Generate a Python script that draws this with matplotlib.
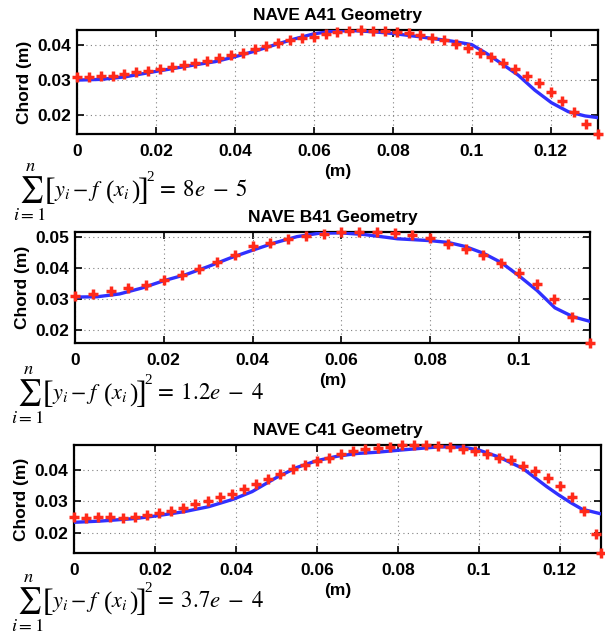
import numpy as np
import matplotlib
matplotlib.use("Agg")
import matplotlib.pyplot as plt

plt.rcParams['font.family'] = ['Liberation Sans', 'DejaVu Sans']
plt.rcParams['mathtext.fontset'] = 'stix'

# ---------------- data ----------------
titles = ["NAVE A41 Geometry", "NAVE B41 Geometry", "NAVE C41 Geometry"]
residual_mant = ["8", "1.2", "3.7"]
residual_exp = ["5", "4", "4"]

a_meas_x = list(np.round(np.arange(45) * 0.003, 4))
a_meas_y = [0.0308, 0.0308, 0.0311, 0.0313, 0.0318, 0.0322, 0.0327, 0.0332, 0.0337, 0.0342,
            0.0350, 0.0356, 0.0363, 0.0372, 0.0379, 0.0388, 0.0398, 0.0408, 0.0415, 0.0420,
            0.0425, 0.0432, 0.0437, 0.0441, 0.0444, 0.0442, 0.0441, 0.0438, 0.0435, 0.0429,
            0.0421, 0.0414, 0.0403, 0.0392, 0.0379, 0.0365, 0.0350, 0.0333, 0.0312, 0.0291,
            0.0267, 0.0239, 0.0208, 0.0174, 0.0145]
a_fit_x = [0, 0.006, 0.012, 0.02, 0.03, 0.035, 0.04, 0.045, 0.05, 0.055, 0.06, 0.065, 0.07,
           0.075, 0.08, 0.0865, 0.095, 0.1, 0.1037, 0.1075, 0.1118, 0.116, 0.1202, 0.1245,
           0.1287, 0.132]
a_fit_y = [0.0300, 0.0302, 0.0309, 0.0325, 0.0344, 0.0353, 0.0367, 0.0383, 0.0401, 0.0418,
           0.0433, 0.0441, 0.0442, 0.0439, 0.0434, 0.0425, 0.0412, 0.0402, 0.0377, 0.0348,
           0.0314, 0.0271, 0.0235, 0.0209, 0.0197, 0.0192]

b_meas_x = list(np.round(np.arange(30) * 0.004, 4))
b_meas_y = [0.0308, 0.0316, 0.0327, 0.0334, 0.0346, 0.0362, 0.0379, 0.0397, 0.0420, 0.0444,
            0.0471, 0.0482, 0.0495, 0.0505, 0.0512, 0.0517, 0.0517, 0.0516, 0.0513, 0.0506,
            0.0497, 0.0479, 0.0462, 0.0442, 0.0415, 0.0384, 0.0347, 0.0300, 0.0241, 0.0157]
b_fit_x = [0, 0.005, 0.01, 0.015, 0.02, 0.025, 0.03, 0.035, 0.04, 0.045, 0.05, 0.055, 0.06,
           0.065, 0.07, 0.0726, 0.08, 0.0841, 0.0879, 0.092, 0.096, 0.1, 0.1041, 0.1081,
           0.1122, 0.1163]
b_fit_y = [0.0306, 0.0307, 0.0316, 0.0335, 0.0359, 0.0379, 0.0405, 0.0433, 0.0458, 0.0482,
           0.0502, 0.0513, 0.0514, 0.0509, 0.0500, 0.0495, 0.0489, 0.0483, 0.0470, 0.0448,
           0.0418, 0.0375, 0.0327, 0.0271, 0.0242, 0.0226]

c_meas_x = list(np.round(np.arange(44) * 0.003, 4)) + [0.1302]
c_meas_y = [0.0251, 0.0248, 0.0249, 0.0249, 0.0246, 0.0250, 0.0256, 0.0262, 0.0269, 0.0280,
            0.0292, 0.0301, 0.0313, 0.0324, 0.0339, 0.0357, 0.0370, 0.0386, 0.0402, 0.0415,
            0.0429, 0.0440, 0.0451, 0.0460, 0.0467, 0.0471, 0.0475, 0.0479, 0.0480, 0.0479,
            0.0478, 0.0475, 0.0468, 0.0460, 0.0450, 0.0439, 0.0432, 0.0414, 0.0396, 0.0374,
            0.0348, 0.0314, 0.0270, 0.0197, 0.0135]
c_fit_x = [0, 0.0065, 0.015, 0.02, 0.0272, 0.0333, 0.0394, 0.044, 0.05, 0.055, 0.06, 0.065,
           0.07, 0.075, 0.08, 0.0845, 0.0901, 0.0961, 0.1, 0.1049, 0.1109, 0.1168, 0.1198,
           0.1227, 0.1255, 0.1302]
c_fit_y = [0.0233, 0.0237, 0.0245, 0.0253, 0.0267, 0.0283, 0.0307, 0.0331, 0.0376, 0.0408,
           0.0430, 0.0444, 0.0453, 0.0457, 0.0463, 0.0468, 0.0474, 0.0473, 0.0464, 0.0442,
           0.0405, 0.0347, 0.0320, 0.0296, 0.0275, 0.0260]

x_ticks = [0, 0.02, 0.04, 0.06, 0.08, 0.1, 0.12]
x_tick_labels = ["0", "0.02", "0.04", "0.06", "0.08", "0.1", "0.12"]
y_ticks_ac = [0.02, 0.03, 0.04]
y_ticks_b = [0.02, 0.03, 0.04, 0.05]

panels = [
    (a_meas_x, a_meas_y, a_fit_x, a_fit_y, y_ticks_ac),
    (b_meas_x, b_meas_y, b_fit_x, b_fit_y, y_ticks_b),
    (c_meas_x, c_meas_y, c_fit_x, c_fit_y, y_ticks_ac),
]

# ---------------- layout (pixels) ----------------
W, H = 605, 633
fig = plt.figure(figsize=(W / 100, H / 100), dpi=100)
boxes = [(77, 598, 30, 134), (75, 590, 232, 343), (74, 601, 445, 553)]
formula_x0 = [13, 11, 11]
formula_base = [196, 399, 607]

red = '#ff2a1a'
blue = '#3030ff'
SERIF = ['Liberation Serif', 'DejaVu Serif']


def draw_formula(x0, base, mant, expo):
    renderer = fig.canvas.get_renderer()
    # text, size, dy (px, down), family, absolute offset or None, gap after (px)
    specs = [
        (r'$\sum_{i=1}^{n}$', 19, 0, None, 0, 0),
        ('[', 23, 4, SERIF, 32, 0),
        (r'$y_i - f$', 16, 0, None, 41, 3),
        ('(', 18, 3, SERIF, None, -1),
        (r'$x_i$', 16, 0, None, None, 1),
        (')', 18, 3, SERIF, None, -1),
        (']', 23, 4, SERIF, None, -2),
        ('2', 11, -15, SERIF, None, 2),
        (r'$=\;' + mant + r'e\;-\;' + expo + '$', 16.5, 0, None, None, 0),
    ]
    x = x0
    for txt, size, dy, fam, absx, gap in specs:
        if absx is not None:
            x = x0 + absx
        kw = dict(fontsize=size, va='baseline', ha='left')
        if fam is not None:
            kw['family'] = fam
        t = fig.text(x / W, 1 - (base + dy) / H, txt, **kw)
        x += t.get_window_extent(renderer).width + gap


for i, ((mx, my, fx, fy, yt), (l, r, t, b)) in enumerate(zip(panels, boxes)):
    ax = fig.add_axes([l / W, 1 - b / H, (r - l) / W, (b - t) / H])
    ax.plot(fx, fy, '-', color=blue, lw=2.4, zorder=3)
    ax.plot(mx, my, '+', color=red, ms=7.5, mew=2.5, zorder=4, clip_on=False)
    ax.set_xlim(0, max(mx))
    ax.set_ylim(min(my), max(my))
    ax.set_xticks([v for v in x_ticks if v <= max(mx)])
    ax.set_xticklabels([s for v, s in zip(x_ticks, x_tick_labels) if v <= max(mx)])
    ax.set_yticks(yt)
    ax.set_yticklabels([f"{v:g}" for v in yt])
    ax.grid(True, linestyle=(0, (1, 3)), color='#808080', lw=0.8)
    ax.tick_params(direction='in', top=True, right=True, length=5, width=1.2,
                   labelsize=12.5, pad=7)
    ax.tick_params(axis='y', pad=4)
    for lab in ax.get_xticklabels() + ax.get_yticklabels():
        lab.set_fontweight('bold')
    for sp in ax.spines.values():
        sp.set_linewidth(1.6)
    ax.set_title(titles[i], fontsize=12.5, fontweight='bold', pad=7)
    ax.set_ylabel("Chord (m)", fontsize=12.5, fontweight='bold', labelpad=4)
    ax.set_xlabel("(m)", fontsize=12.5, fontweight='bold', labelpad=4)
    draw_formula(formula_x0[i], formula_base[i], residual_mant[i], residual_exp[i])

fig.savefig("out.png", dpi=100)
